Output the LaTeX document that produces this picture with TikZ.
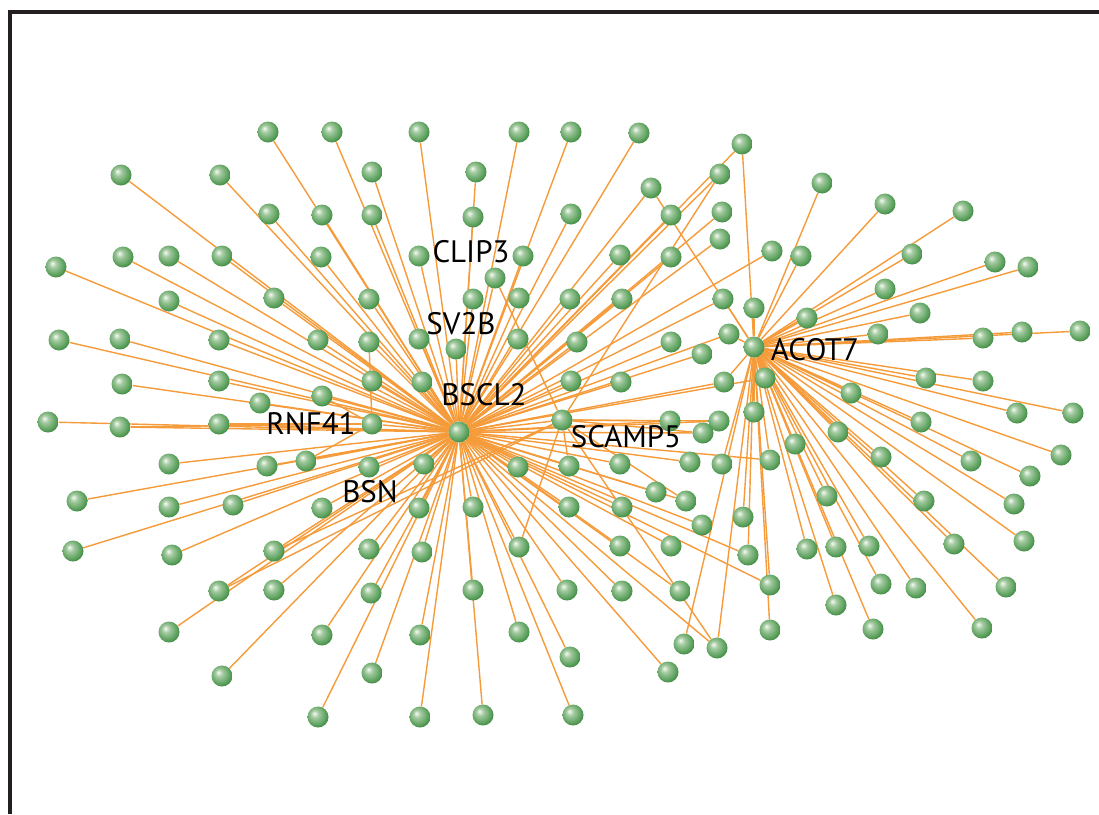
\documentclass[tikz,border=0pt]{standalone}
\usepackage{fontspec}
\newfontfamily\labfont{PT Sans}
\definecolor{gHi}{HTML}{F6FAF4}
\definecolor{gMid}{HTML}{A3CAA0}
\definecolor{gDk}{HTML}{5EA25F}
\definecolor{gEdge}{HTML}{2F7C34}
\definecolor{edgeor}{HTML}{F69B3A}
\definecolor{frame}{HTML}{231F20}
\pgfdeclareradialshading{gball}{\pgfqpoint{-9bp}{9bp}}{color(0bp)=(gHi); color(9bp)=(gMid); color(23bp)=(gDk); color(33bp)=(gEdge); color(50bp)=(gEdge)}
\pgfdeclarelayer{bg}
\pgfsetlayers{bg,main}
\tikzset{
  ball/.style={circle, inner sep=0pt, minimum size=21pt, shading=gball},
  edge/.style={draw=edgeor, line width=1.4pt},
  glabel/.style={font=\labfont\fontsize{31}{33}\selectfont, inner sep=0pt, text=black},
}
\begin{document}
\begin{tikzpicture}[x=1pt,y=-1pt]
\useasboundingbox (0,0) rectangle (1099,814);
% hubs
\node[ball] (B) at (459,432) {};
\node[ball] (A) at (754,347) {};
\node[ball] (S) at (562,420) {};
\node[ball] (R) at (372,424) {};
% leaves
\foreach \x/\y in {268/132,332/132,419/132,519/132,571/132,639/133,742/144,
121/175,220/175,372/172,476/172,651/188,720/174,822/183,
885/204,963/211,269/214,322/215,372/215,473/217,571/214,671/215,722/212,
720/239,56/267,123/257,169/256,222/256,321/257,419/256,523/256,620/255,671/257,772/251,801/256,912/254,995/262,1028/267,
495/278,885/289,169/301,274/298,369/299,473/299,519/298,570/299,622/299,723/299,754/308,807/318,920/313,
59/340,120/339,219/340,318/340,369/342,419/339,456/349,518/339,577/342,671/342,702/354,729/334,878/334,983/338,1022/332,1080/331,
122/384,219/381,260/403,322/396,372/381,422/382,571/381,621/382,724/382,765/378,851/393,926/378,983/381,754/412,1017/413,1073/413,
48/422,120/427,219/424,670/421,703/433,719/421,838/432,921/422,795/444,
169/464,267/466,306/461,369/467,424/464,518/467,569/466,620/464,690/462,722/464,770/460,881/457,971/461,1061/455,1030/476,
77/501,169/507,233/505,322/508,419/508,473/507,569/507,622/507,656/492,686/501,702/525,743/517,827/496,924/501,1014/504,
73/551,172/555,274/551,369/549,422/552,519/547,620/546,671/546,748/555,807/549,836/547,869/546,954/544,1024/541,
219/591,274/590,371/593,473/590,567/590,622/591,680/591,770/585,881/584,916/588,1006/587,
836/605,169/632,322/635,420/635,519/632,570/657,684/644,717/648,770/630,873/629,982/628,
222/676,372/673,668/672,318/717,420/717,483/715,573/715}
  \node[ball] (n\x-\y) at (\x,\y) {};
% labels
\node[glabel] (lCLIP) at (471,252) {CLIP3};
\node[glabel] (lSV) at (461,324) {SV2B};
\node[glabel] (lBSCL) at (484,395) {BSCL2};
\node[glabel] (lACOT) at (815,350) {ACOT7};
\node[glabel] (lRNF) at (311,424) {RNF41};
\node[glabel] (lSCAMP) at (626,437) {SCAMP5};
\node[glabel] (lBSN) at (370,492) {BSN};
\begin{pgfonlayer}{bg}
\fill[white] (0,0) rectangle (1099,814);
\draw[frame, line width=4pt] (9.5,814) -- (9.5,11.5) -- (1099,11.5);
\draw[edge] (B) -- (S);
\draw[edge] (B) -- (R);
\foreach \c in {268-132,332-132,419-132,519-132,571-132,639-133,742-144,121-175,220-175,372-172,476-172,651-188,720-174,269-214,322-215,372-215,473-217,571-214,671-215,722-212,720-239,56-267,123-257,169-256,222-256,321-257,419-256,523-256,620-255,671-257,772-251,495-278,169-301,274-298,369-299,473-299,519-298,570-299,622-299,723-299,59-340,120-339,219-340,318-340,369-342,419-339,456-349,518-339,577-342,671-342,702-354,729-334,122-384,219-381,260-403,322-396,372-381,422-382,571-381,621-382,724-382,765-378,48-422,120-427,219-424,670-421,703-433,719-421,770-460,169-464,267-466,306-461,369-467,424-464,518-467,569-466,620-464,690-462,77-501,169-507,233-505,322-508,419-508,473-507,569-507,622-507,656-492,686-501,702-525,73-551,172-555,274-551,369-549,422-552,519-547,620-546,671-546,748-555,219-591,274-590,371-593,473-590,567-590,622-591,680-591,770-585,169-632,322-635,420-635,519-632,570-657,717-648,222-676,372-673,668-672,318-717,420-717,483-715,573-715}
  \draw[edge] (B) -- (n\c);
\foreach \c in {742-144,651-188,822-183,885-204,963-211,801-256,912-254,995-262,1028-267,885-289,723-299,754-308,807-318,920-313,729-334,878-334,983-338,1022-332,1080-331,724-382,765-378,851-393,926-378,983-381,754-412,1017-413,1073-413,838-432,921-422,795-444,722-464,770-460,881-457,971-461,1061-455,1030-476,743-517,827-496,924-501,1014-504,748-555,807-549,836-547,869-546,954-544,1024-541,770-585,881-584,916-588,1006-587,836-605,684-644,717-648,770-630,873-629,982-628}
  \draw[edge] (A) -- (n\c);
\foreach \c in {720-174,495-278,670-421,703-433,569-466,519-547,686-501,717-648,274-551,219-591,719-421}
  \draw[edge] (S) -- (n\c);
\foreach \c in {219-424,306-461,322-396,369-342,120-427}
  \draw[edge] (R) -- (n\c);
\end{pgfonlayer}
\end{tikzpicture}
\end{document}
